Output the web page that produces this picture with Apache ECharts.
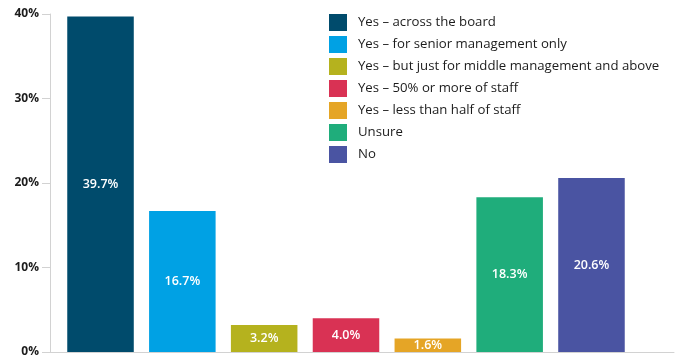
<!DOCTYPE html>
<html>
<head>
<meta charset="utf-8">
<script src="https://cdn.jsdelivr.net/npm/echarts@6/dist/echarts.min.js"></script>
<style>
  html, body { margin: 0; padding: 0; background: #ffffff; }
  #chart { width: 683px; height: 358px; }
</style>
</head>
<body>
<div id="chart"></div>
<script>
// Survey answers and their shares (percent of respondents)
const categories = [
  'Yes – across the board',
  'Yes – for senior management only',
  'Yes – but just for middle management and above',
  'Yes – 50% or more of staff',
  'Yes – less than half of staff',
  'Unsure',
  'No'
];
const values = [39.7, 16.7, 3.2, 4.0, 1.6, 18.3, 20.6];
const yTicks = [0, 10, 20, 30, 40];

// One colour per answer
const palette = ['#004b6c', '#00a1e4', '#b5b21e', '#d93254', '#e5a526', '#1fad7b', '#4a54a2'];

const FONT = '"Open Sans", "Noto Sans", sans-serif';
const AXIS_GREY = '#d2d2d2';

const chart = echarts.init(document.getElementById('chart'), null, { renderer: 'canvas' });

// Each answer is its own series so it gets its own legend entry;
// all series share the category slots and overlap via barGap -100%.
const series = categories.map((name, i) => ({
  name: name,
  type: 'bar',
  xAxisIndex: 1,
  yAxisIndex: 1,
  barGap: '-100%',
  barCategoryGap: '18.7%',
  data: categories.map((c, j) => (j === i ? values[i] : '-')),
  itemStyle: { color: palette[i] },
  label: {
    show: true,
    position: 'inside',
    color: '#ffffff',
    fontFamily: FONT,
    fontSize: 12.5,
    fontWeight: 600,
    formatter: p => p.value.toFixed(1) + '%'
  },
  emphasis: { disabled: true }
}));

chart.setOption({
  animation: false,
  backgroundColor: '#ffffff',
  legend: {
    orient: 'vertical',
    left: 329,
    top: 14,
    padding: 0,
    icon: 'rect',
    itemWidth: 18,
    itemHeight: 17,
    itemGap: 5,
    selectedMode: false,
    data: categories,
    textStyle: {
      fontFamily: FONT,
      fontSize: 13.2,
      fontWeight: 500,
      color: '#1c1c1c',
      padding: [0, 0, 0, 6]
    }
  },
  grid: [
    // axis frame
    { left: 50, right: 9, top: 14, bottom: 6 },
    // bar area
    { left: 59.6, right: 50.6, top: 14, bottom: 6 }
  ],
  xAxis: [
    {
      gridIndex: 0,
      type: 'value',
      min: 0,
      max: 1,
      axisLine: { show: true, lineStyle: { color: AXIS_GREY, width: 1 } },
      axisTick: { show: false },
      axisLabel: { show: false },
      splitLine: { show: false }
    },
    {
      gridIndex: 1,
      type: 'category',
      data: categories,
      show: false
    }
  ],
  yAxis: [
    {
      gridIndex: 0,
      type: 'value',
      min: yTicks[0],
      max: yTicks[yTicks.length - 1],
      interval: 10,
      axisLine: { show: true, lineStyle: { color: AXIS_GREY, width: 1 } },
      axisTick: { show: true, length: 8, lineStyle: { color: AXIS_GREY } },
      splitLine: { show: false },
      axisLabel: {
        margin: 11,
        color: '#1c1c1c',
        fontFamily: FONT,
        fontSize: 12,
        fontWeight: 700,
        formatter: '{value}%'
      }
    },
    {
      gridIndex: 1,
      type: 'value',
      min: yTicks[0],
      max: yTicks[yTicks.length - 1],
      show: false
    }
  ],
  series: series
});
</script>
</body>
</html>
